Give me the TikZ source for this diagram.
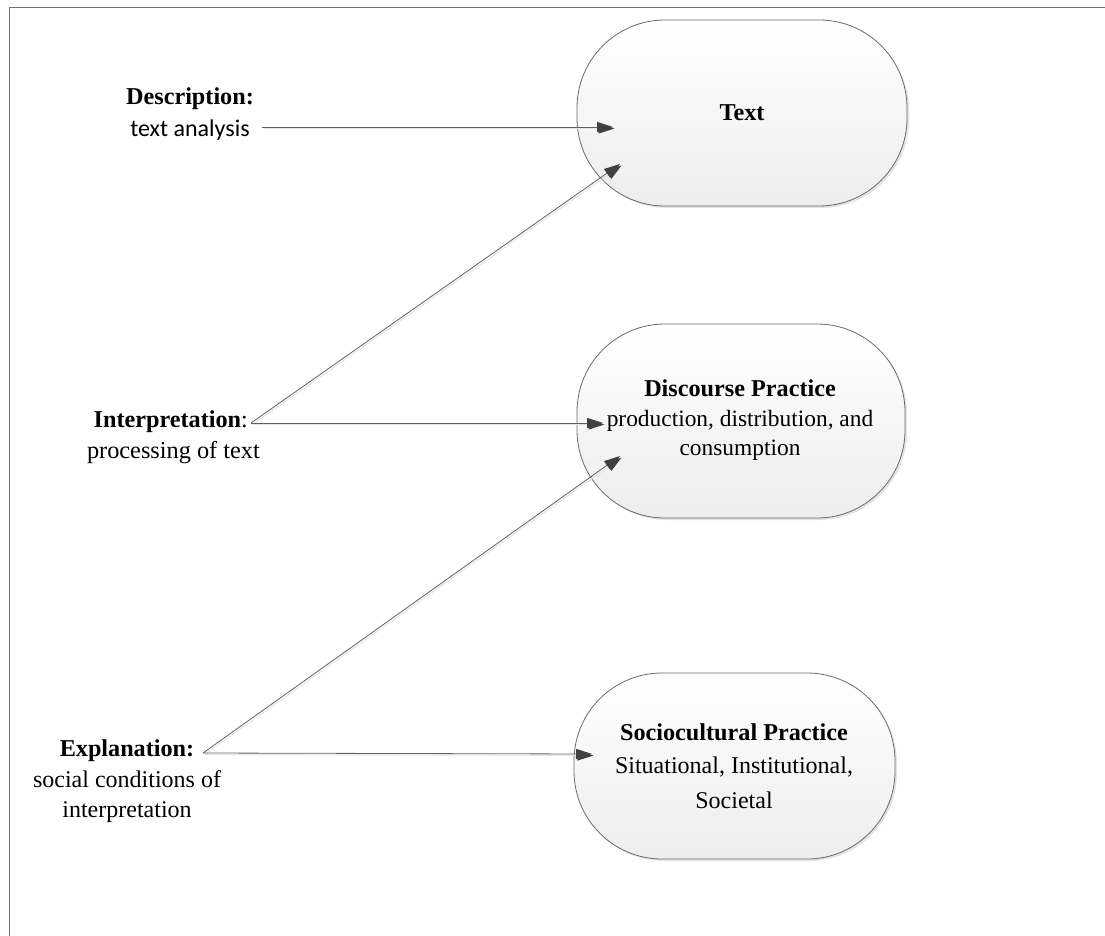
\documentclass[tikz,border=0pt]{standalone}
\usepackage{fontspec}
\setmainfont{Liberation Serif}
\newfontfamily\calibrifont{Carlito}
\usetikzlibrary{arrows.meta,shadows}
\begin{document}
\begin{tikzpicture}[x=1pt,y=-1pt,
  stadium/.style={draw=black!58, line width=0.8pt, rounded corners=88pt,
    top color=white, bottom color=black!7,
    drop shadow={fill=black!18, shadow xshift=2pt, shadow yshift=-2pt, opacity=0.6}},
  lbl/.style={inner sep=0pt, anchor=base, font=\fontsize{23.4}{28}\selectfont},
  side/.style={lbl, font=\fontsize{24}{28}\selectfont},
  hd/.style={lbl, font=\bfseries\fontsize{24.2}{28}\selectfont},
  conn/.style={draw=black!62, line width=0.8pt,
    -{Triangle[length=16pt,width=10pt,color=black!75,fill=black!75]},
    preaction={draw=black!10, line width=1pt, transform canvas={shift={(1.5pt,-1.5pt)}}}},
  frameline/.style={draw=black!55, line width=1pt}]
\useasboundingbox (0,0) rectangle (1105,936);
\fill[white] (0,0) rectangle (1105,936);
% frame
\coordinate (fa) at (9,936);
\coordinate (fb) at (9,7.5);
\coordinate (fc) at (1105,7.5);
\draw[frameline] (fa) -- (fb) -- (fc);
% boxes
\node[stadium, minimum width=330pt, minimum height=186pt] (tbox) at (742,113) {};
\node[stadium, minimum width=328pt, minimum height=194pt] (dbox) at (741,421) {};
\node[stadium, minimum width=321pt, minimum height=186pt] (sbox) at (734.5,766) {};
% box texts
\node[hd] (t1) at (742,121) {Text};
\node[hd] (d1) at (740,396) {Discourse Practice};
\node[lbl] (d2) at (740,426) {production, distribution, and};
\node[lbl] (d3) at (740,455) {consumption};
\node[hd] (s1) at (734,740) {Sociocultural Practice};
\node[side] (s2) at (734,773) {Situational, Institutional,};
\node[side] (s3) at (734,808) {Societal};
% left labels
\node[hd] (desc1) at (190,105) {Description:};
\node[lbl, font=\calibrifont\fontsize{24}{28}\selectfont] (desc2) at (190,137) {text analysis};
\node[side, anchor=base east] (int1) at (248,427) {\textbf{\fontsize{24.2}{28}\selectfont Interpretation}:};
\node[side, anchor=base east, font=\fontsize{24.3}{28}\selectfont] (int2) at (260,458) {processing of text};
\node[hd] (exp1) at (127,756) {Explanation:};
\node[side] (exp2) at (127,787) {social conditions of};
\node[side] (exp3) at (127,817) {interpretation};
% connector points
\coordinate (descS) at (262,127);
\coordinate (intS) at (251,423);
\coordinate (expS) at (203,753);
\coordinate (tA) at (613,127);
\coordinate (tB) at (620,164);
\coordinate (dA) at (603,423);
\coordinate (dB) at (620,456);
\coordinate (sA) at (592,754);
% connectors
\draw[conn] (descS) -- (tA);
\draw[conn] (intS) -- (tB);
\draw[conn] (intS) -- (dA);
\draw[conn] (expS) -- (dB);
\draw[conn] (expS) -- (sA);
\end{tikzpicture}
\end{document}
